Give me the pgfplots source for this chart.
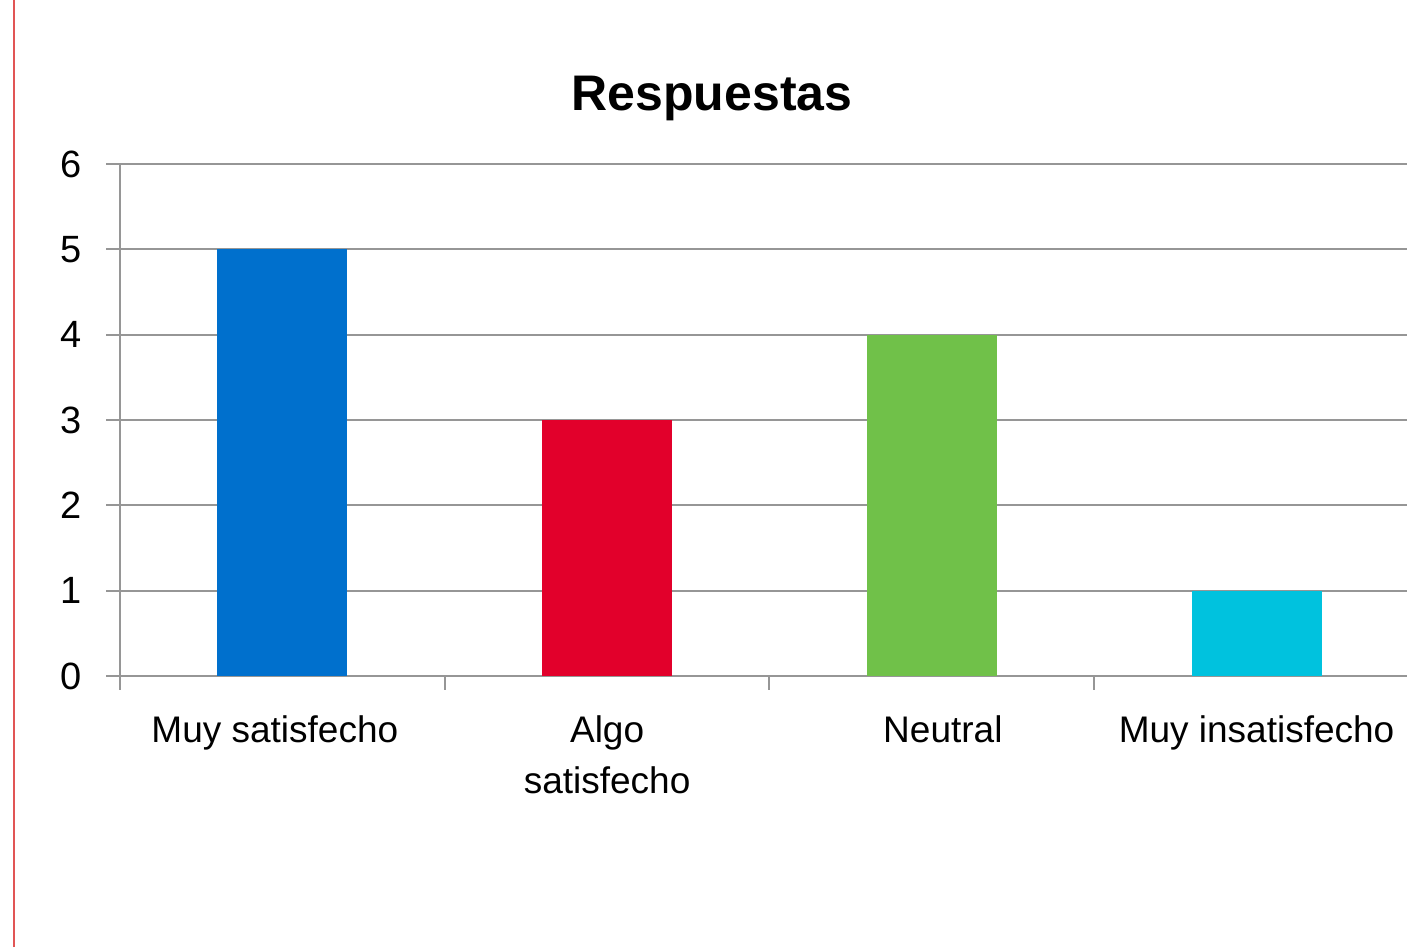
\documentclass[border=0pt]{standalone}
\usepackage{pgfplots}
\pgfplotsset{compat=1.18}
\usepackage{fontspec}
\setmainfont{Liberation Sans}
\definecolor{cblue}{RGB}{0,112,205}
\definecolor{cred}{RGB}{226,0,43}
\definecolor{cgreen}{RGB}{112,193,73}
\definecolor{ccyan}{RGB}{0,194,222}
\definecolor{cgrid}{RGB}{150,150,150}
\definecolor{cside}{RGB}{225,85,85}
\begin{document}
\begin{tikzpicture}[x=1pt,y=1pt]
\begin{axis}[
  at={(120pt,271pt)}, anchor=south west,
  scale only axis, width=1299pt, height=512pt,
  xmin=-0.5, xmax=3.5, ymin=0, ymax=6,
  axis x line*=bottom, axis y line*=left,
  axis line style={cgrid, line width=2pt, -},
  ytick={0,1,2,3,4,5,6},
  xtick={-0.5,0.5,1.5,2.5,3.5},
  x tick label as interval,
  xticklabels={{Muy satisfecho\hspace*{15pt}}, {Algo\\satisfecho}, {\hspace*{22pt}Neutral}, Muy insatisfecho},
  tick align=outside,
  major tick length=14pt,
  tick style={cgrid, line width=2pt},
  ymajorgrids,
  grid style={cgrid, line width=2pt},
  xticklabel style={align=center, font=\fontsize{37}{51}\selectfont, text=black, yshift=-22pt},
  yticklabel style={font=\fontsize{38}{44}\selectfont, text=black, xshift=-21pt},
  /pgf/number format/assume math mode=true,
]
\addplot[ybar, bar width=130pt, bar shift=0pt, fill=cblue, draw=none] coordinates {(0,5)};
\addplot[ybar, bar width=130pt, bar shift=0pt, fill=cred, draw=none] coordinates {(1,3)};
\addplot[ybar, bar width=130pt, bar shift=0pt, fill=cgreen, draw=none] coordinates {(2,4)};
\addplot[ybar, bar width=130pt, bar shift=0pt, fill=ccyan, draw=none] coordinates {(3,1)};
\end{axis}
\node[anchor=base, font=\bfseries\fontsize{50}{60}\selectfont] at (712,836) {Respuestas};
\draw[cside, line width=2.5pt] (14,0) -- (14,947);
\pgfresetboundingbox
\useasboundingbox (0,0) rectangle (1407,947);
\end{tikzpicture}
\end{document}
